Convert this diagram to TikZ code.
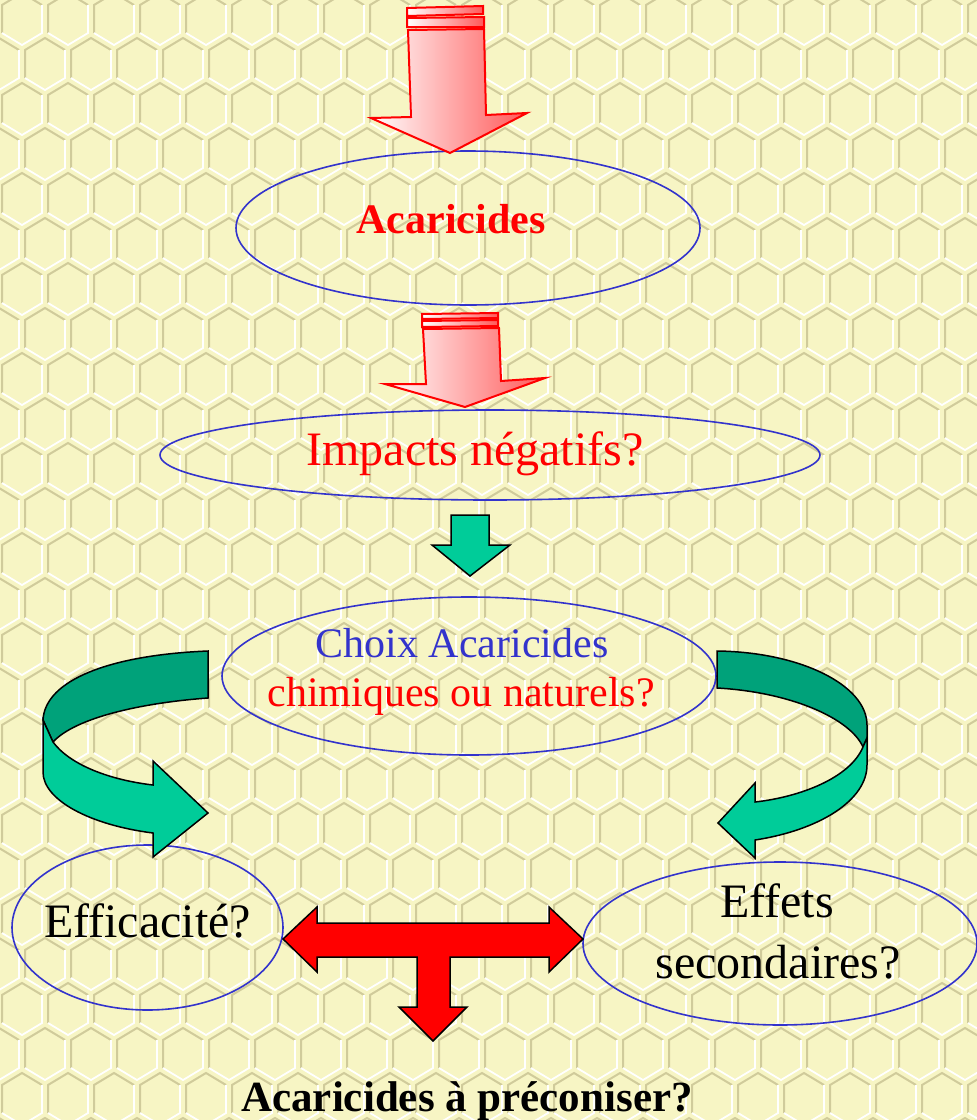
\documentclass[tikz,border=0pt]{standalone}
\usepackage{fontspec}
\setmainfont{Liberation Serif}
\usepackage{tikz}
\usetikzlibrary{shapes.geometric,calc}

\definecolor{fondjaune}{RGB}{247,245,196}
\definecolor{olivetrait}{RGB}{208,203,155}
\definecolor{bleutrait}{RGB}{51,51,204}
\definecolor{rosefonce}{RGB}{255,88,88}
\definecolor{vertclair}{RGB}{0,204,153}
\definecolor{vertfonce}{RGB}{0,162,122}

\begin{document}
\begin{tikzpicture}[x=1pt,y=-1pt,
  alveoleOmbre/.style={draw=olivetrait,line width=2},
  alveoleLumiere/.style={draw=white,line width=1.8},
  bulle/.style={ellipse,draw=bleutrait,line width=1.6,inner sep=0pt},
  flecheRose/.style={draw=red,line width=2,line join=miter,left color=white,right color=rosefonce},
  flecheVerte/.style={draw=black,line width=1.5,line join=miter,fill=vertclair},
  flecheRouge/.style={draw=black,line width=1.5,line join=miter,fill=red},
  titre/.style={anchor=base,font=\fontsize{42}{49}\selectfont\bfseries},
  texte/.style={anchor=base,font=\fontsize{48}{61}\selectfont},
  moyen/.style={anchor=base,font=\fontsize{42}{49}\selectfont}]

% Background
\useasboundingbox (0,0) rectangle (977,1120);
\clip (0,0) rectangle (977,1120);
\fill[fondjaune] (0,0) rectangle (977,1120);

% Honeycomb
\foreach \r in {0,...,25}{
  \foreach \c in {-1,...,21}{
    \pgfmathsetmacro\hx{22+46*\c+23*mod(\r,2)}
    \pgfmathsetmacro\hy{19+45*\r}
    \draw[alveoleOmbre] ({\hx-20},{\hy+14}) -- ++(0,-28) -- ++(20,-12) -- ++(20,12);
    \draw[alveoleLumiere] ({\hx+20},{\hy-14}) -- ++(0,28) -- ++(-20,12) -- ++(-20,-12);
  }
}

% Ellipses
\node[bulle,minimum width=464,minimum height=154] (eAcar) at (468,228) {};
\node[bulle,minimum width=660,minimum height=90] (eImpacts) at (490,455) {};
\node[bulle,minimum width=494,minimum height=158] (eChoix) at (469,676) {};
\node[bulle,minimum width=271,minimum height=165] (eEffic) at (147.5,927.5) {};
\node[bulle,minimum width=394,minimum height=163] (eEffets) at (780,943.5) {};

% Texts
\node[titre,text=red] (tAcar) at (451,233) {Acaricides};
\node[texte,text=red] (tImpacts) at (475,465) {Impacts négatifs?};
\node[moyen,text=bleutrait] (tChoix) at (462,657) {Choix Acaricides};
\node[moyen,text=red] (tChim) at (461,706) {chimiques ou naturels?};
\node[texte] (tEffic) at (147.5,937) {Efficacité?};
\node[texte] (tEffets) at (777,917) {Effets};
\node[texte] (tSecond) at (778,978) {secondaires?};
\node[titre,font=\fontsize{43}{49}\selectfont\bfseries] (tPreco) at (467,1111) {Acaricides à préconiser?};

% Striped arrows
\draw[flecheRose] (407,8) -- (483,6) -- (483,14) -- (407,16) -- cycle;
\draw[flecheRose] (407,18) -- (484,17) -- (484,27) -- (407,27) -- cycle;
\draw[flecheRose] (408,30) -- (484,29) -- (486,115) -- (527,113) -- (450,153)
  -- (371,118) -- (411,117) -- cycle;

\draw[flecheRose] (422,314) -- (498,313) -- (498,318) -- (422,319) -- cycle;
\draw[flecheRose] (422,321) -- (498,320) -- (498,326) -- (422,327) -- cycle;
\draw[flecheRose] (423,329) -- (499,328) -- (501,381) -- (545,378) -- (465,407)
  -- (385,384) -- (426,384) -- cycle;

% Small green arrow
\draw[flecheVerte] (451,515) -- (489,515) -- (489,545) -- (510,545) -- (470,576)
  -- (432,545) -- (451,545) -- cycle;

% Left curved arrow
\draw[flecheVerte,fill=vertfonce] (208,651) -- (208,698)
  .. controls (140,703) and (75,718) .. (53,742) -- (43,720)
  .. controls (45,680) and (110,655) .. (208,651) -- cycle;
\draw[flecheVerte] (53,742) .. controls (70,765) and (110,780) .. (153,785)
  -- (153,761) -- (208,813) -- (153,857) -- (153,833)
  .. controls (90,825) and (43,800) .. (43,772) -- (43,720) -- cycle;

% Right curved arrow
\draw[flecheVerte,fill=vertfonce] (717,651) -- (717,688)
  .. controls (790,692) and (850,718) .. (863,747) -- (867,738) -- (867,725)
  .. controls (867,685) and (800,652) .. (717,651) -- cycle;
\draw[flecheVerte] (863,747) .. controls (850,778) and (800,797) .. (755,802)
  -- (755,783) -- (718,823) -- (755,858) -- (755,840)
  .. controls (820,830) and (867,800) .. (867,765) -- (867,738) -- cycle;

% T arrow
\draw[flecheRouge] (283,939) -- (317,907) -- (317,923) -- (549,923) -- (549,907)
  -- (583,939) -- (549,972) -- (549,957) -- (450,957) -- (450,1007) -- (467,1007)
  -- (433,1041) -- (399,1007) -- (417,1007) -- (417,957) -- (317,957)
  -- (317,972) -- cycle;
\end{tikzpicture}
\end{document}
